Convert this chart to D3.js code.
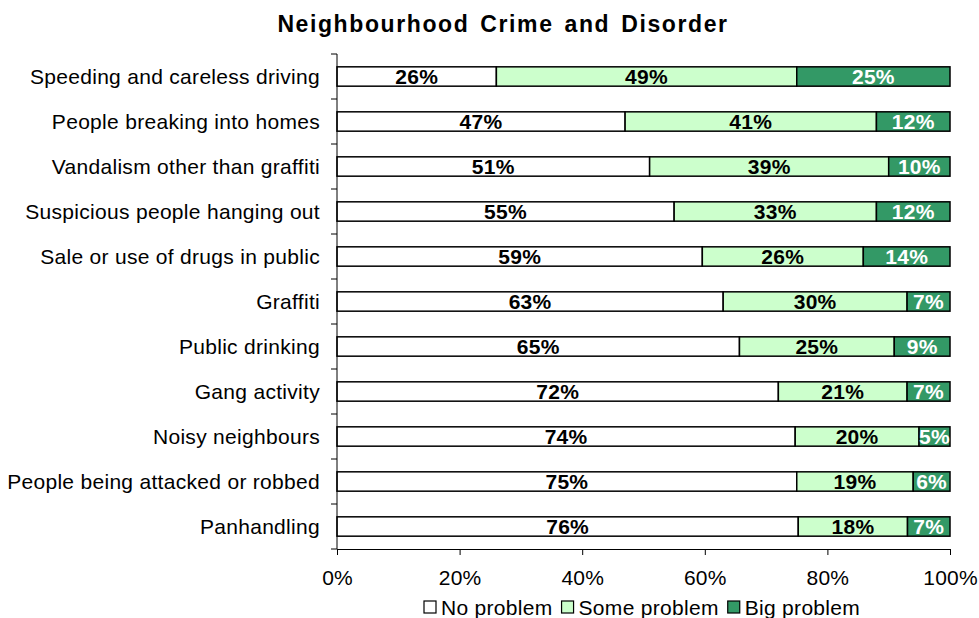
<!DOCTYPE html>
<html>
<head>
<meta charset="utf-8">
<script src="https://cdn.jsdelivr.net/npm/d3@7"></script>
<style>
  body { margin: 0; background: #fff; }
  svg { display: block; font-family: "Liberation Sans", Arial, sans-serif; }
</style>
</head>
<body>
<svg id="chart" width="979" height="618"></svg>
<script>
// Survey responses per neighbourhood issue (percent of respondents)
const categories = [
  "Speeding and careless driving",
  "People breaking into homes",
  "Vandalism other than graffiti",
  "Suspicious people hanging out",
  "Sale or use of drugs in public",
  "Graffiti",
  "Public drinking",
  "Gang activity",
  "Noisy neighbours",
  "People being attacked or robbed",
  "Panhandling"
];
const noProblem   = [26, 47, 51, 55, 59, 63, 65, 72, 74, 75, 76];
const someProblem = [49, 41, 39, 33, 26, 30, 25, 21, 20, 19, 18];
const bigProblem  = [25, 12, 10, 12, 14,  7,  9,  7,  5,  6,  7];
const seriesNames = ["No problem", "Some problem", "Big problem"];
const tickValues = [0, 0.2, 0.4, 0.6, 0.8, 1];

const colors = ["#ffffff", "#ccffcc", "#339966"];
const labelColors = ["#000000", "#000000", "#ffffff"];

const rows = categories.map((c, i) => ({
  category: c,
  "No problem": noProblem[i],
  "Some problem": someProblem[i],
  "Big problem": bigProblem[i]
}));

const svg = d3.select("#chart");

const x = d3.scaleLinear().domain([0, 1]).range([337, 950]);
const y = d3.scaleBand().domain(categories).range([54, 549])
  .paddingInner(0.57).paddingOuter(0.285);

// 100% stacked layout
const stack = d3.stack().keys(seriesNames).offset(d3.stackOffsetExpand);
const stacked = stack(rows);

// Title
svg.append("text")
  .attr("x", 503).attr("y", 32)
  .attr("text-anchor", "middle")
  .attr("font-size", 23).attr("font-weight", "bold")
  .attr("letter-spacing", 1.6)
  .attr("word-spacing", 3)
  .text("Neighbourhood Crime and Disorder");

// Bars
const layers = svg.append("g").selectAll("g").data(stacked).join("g")
  .attr("fill", (d, i) => colors[i]);

layers.selectAll("rect").data(d => d.map(p => ({p, key: d.key}))).join("rect")
  .attr("x", d => x(d.p[0]))
  .attr("y", d => y(d.p.data.category))
  .attr("width", d => x(d.p[1]) - x(d.p[0]))
  .attr("height", y.bandwidth())
  .attr("stroke", "#000")
  .attr("stroke-width", 1.5);

// Value labels
stacked.forEach((layer, si) => {
  svg.append("g").selectAll("text").data(layer).join("text")
    .attr("x", d => (x(d[0]) + x(d[1])) / 2)
    .attr("y", d => y(d.data.category) + y.bandwidth() / 2)
    .attr("dy", "0.36em")
    .attr("text-anchor", "middle")
    .attr("font-size", 21).attr("font-weight", "bold")
    .attr("letter-spacing", 0.3)
    .attr("fill", labelColors[si])
    .text(d => d.data[layer.key] + "%");
});

// Category axis
const yAxis = svg.append("g").attr("transform", "translate(337,0)");
yAxis.append("line").attr("x1", 0).attr("x2", 0)
  .attr("y1", y.range()[0]).attr("y2", y.range()[1]).attr("stroke", "#000");
const boundaries = d3.range(categories.length + 1)
  .map(i => y.range()[0] + i * y.step());
yAxis.selectAll(".tick").data(boundaries).join("line")
  .attr("x1", -6).attr("x2", 0)
  .attr("y1", d => d).attr("y2", d => d)
  .attr("stroke", "#000");
yAxis.selectAll("text").data(categories).join("text")
  .attr("x", -17)
  .attr("y", d => y(d) + y.bandwidth() / 2)
  .attr("dy", "0.36em")
  .attr("text-anchor", "end")
  .attr("font-size", 21)
  .attr("letter-spacing", 0.3)
  .text(d => d);

// Percentage axis
const xAxis = svg.append("g").attr("transform", "translate(0,549)")
  .call(d3.axisBottom(x).tickValues(tickValues).tickFormat(d3.format(".0%"))
    .tickSize(6).tickPadding(15));
xAxis.select(".domain").attr("stroke", "#000");
xAxis.selectAll(".tick line").attr("stroke", "#000");
xAxis.selectAll("text")
  .attr("font-family", "Liberation Sans, Arial, sans-serif")
  .attr("font-size", 21).attr("fill", "#000").attr("letter-spacing", 0.2);

// Legend
const legend = svg.append("g").attr("transform", "translate(424,607)");
let lx = 0;
seriesNames.forEach((name, i) => {
  legend.append("rect")
    .attr("x", lx).attr("y", -6).attr("width", 12).attr("height", 12)
    .attr("fill", colors[i]).attr("stroke", "#000").attr("stroke-width", 1.2);
  const t = legend.append("text")
    .attr("x", lx + 17).attr("y", 0).attr("dy", "0.36em")
    .attr("font-size", 21).attr("letter-spacing", 0.3)
    .text(name);
  lx += 17 + t.node().getComputedTextLength() + 9;
});
</script>
</body>
</html>
